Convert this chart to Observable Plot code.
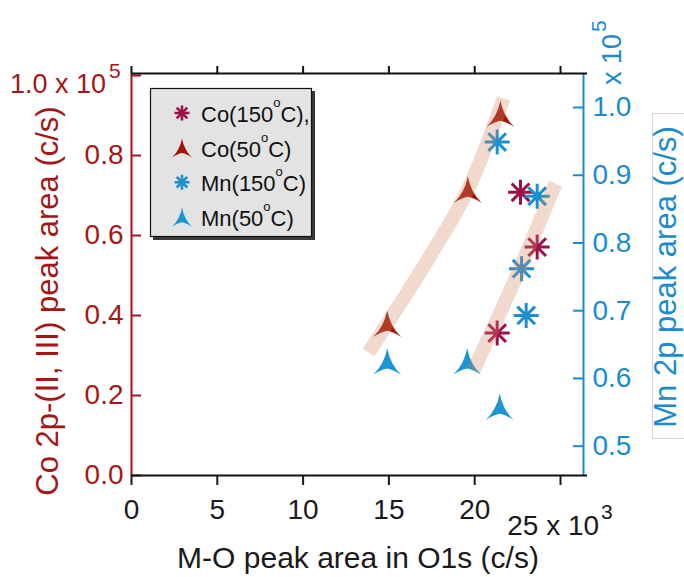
<!DOCTYPE html>
<html><head><meta charset="utf-8">
<script src="https://cdn.jsdelivr.net/npm/d3@7"></script>
<script src="https://cdn.jsdelivr.net/npm/@observablehq/plot@0.6"></script>
<style>html,body{margin:0;padding:0;background:#fff;} #chart{width:684px;height:577px;}</style>
</head><body><div id="chart"></div>
<script>
// x: M-O peak area in O1s (x 10^3 c/s); Co: left axis (x 10^5 c/s); Mn: right axis (x 10^5 c/s)
const co150X = [22.67, 23.64, 21.31];
const co150Y = [0.708, 0.571, 0.356];
const co50X = [21.5, 19.6, 14.9];
const co50Y = [0.9025, 0.7125, 0.3775];
const mn150X = [21.31, 23.64, 22.73, 23.0];
const mn150Y = [0.949, 0.869, 0.762, 0.693];
const mn50X = [14.9, 19.56, 21.46];
const mn50Y = [0.624, 0.624, 0.557];
// guide bands (left-axis units)
const band1X = [13.81, 17.31, 19.58, 21.68];
const band1Y = [0.3075, 0.5425, 0.7125, 0.9425];
const band2X = [19.93, 22.38, 24.71];
const band2Y = [0.2625, 0.4925, 0.73];
// ticks
const xTicks = [0, 5, 10, 15, 20, 25];
const leftTicks = [0, 0.2, 0.4, 0.6, 0.8, 1.0];
const rightTicks = [0.5, 0.6, 0.7, 0.8, 0.9, 1.0];
const legendItems = [
  {pre: "Co(150", post: "C),", sym: "star", key: "co150"},
  {pre: "Co(50", post: "C)", sym: "tri", key: "co50"},
  {pre: "Mn(150", post: "C)", sym: "star", key: "mn150"},
  {pre: "Mn(50", post: "C)", sym: "tri", key: "mn50"}
];

const W = 684, H = 577, mL = 131, mR = 101, mT = 73, mB = 102;
const frameW = W - mL - mR, frameH = H - mT - mB;
const xDomain = [0, 26.34], yDomain = [0, 1.005];
const toLeft = d3.scaleLinear().domain([0.5, 1.0]).range([0.0733, 0.92]);
const RED = "#a31717", BLUE = "#1a8bcd";
const COL = {co150: "#9c1049", co50: "#a3170b", mn150: "#1b8fd0", mn50: "#1c95d6"};
const FONT = "'Liberation Sans', Arial, Helvetica, sans-serif";

const starSym = {draw(ctx, size) {
  const r = Math.sqrt(size / Math.PI);
  for (const a of [0, 45, 90, 135]) {
    const t = a * Math.PI / 180;
    ctx.moveTo(r * Math.cos(t), r * Math.sin(t));
    ctx.lineTo(-r * Math.cos(t), -r * Math.sin(t));
  }
}};
const triSym = {draw(ctx, size) {
  const r = Math.sqrt(size / Math.PI);
  ctx.moveTo(0, -r);
  ctx.quadraticCurveTo(0.22 * r, 0.15 * r, 1.0 * r, 0.9 * r);
  ctx.quadraticCurveTo(0.4 * r, 0.5 * r, 0, 0.45 * r);
  ctx.quadraticCurveTo(-0.4 * r, 0.5 * r, -1.0 * r, 0.9 * r);
  ctx.quadraticCurveTo(-0.22 * r, 0.15 * r, 0, -r);
  ctx.closePath();
}};

const co150 = co150X.map((x, i) => ({x, y: co150Y[i]}));
const co50 = co50X.map((x, i) => ({x, y: co50Y[i]}));
const mn150 = mn150X.map((x, i) => ({x, y: toLeft(mn150Y[i])}));
const mn50 = mn50X.map((x, i) => ({x, y: toLeft(mn50Y[i])}));
const band1 = band1X.map((x, i) => ({x, y: band1Y[i]}));
const band2 = band2X.map((x, i) => ({x, y: band2Y[i]}));

const bandStyle = {x: "x", y: "y", curve: "catmull-rom", stroke: "#d28a66", strokeOpacity: 0.32, strokeWidth: 14, strokeLinecap: "butt"};

const chart = Plot.plot({
  width: W, height: H, marginLeft: mL, marginRight: mR, marginTop: mT, marginBottom: mB,
  x: {domain: xDomain}, y: {domain: yDomain},
  style: {fontFamily: FONT, background: "white", overflow: "visible"},
  marks: [
    Plot.axisX(xTicks, {anchor: "bottom", tickSize: 10, tickPadding: 14, fontSize: 28, color: "#1a1a1a", strokeWidth: 2,
      tickFormat: d => d === 25 ? "" : String(d), label: null}),
    Plot.axisY(leftTicks.filter(d => d < 1), {anchor: "left", tickSize: 0, tickPadding: 8, fontSize: 28, color: RED,
      tickFormat: d3.format(".1f"), label: null}),
    Plot.axisY(rightTicks.map(toLeft), {anchor: "right", tickSize: 0, tickPadding: 9, fontSize: 28, color: BLUE,
      tickFormat: d => toLeft.invert(d).toFixed(1), label: null}),
    Plot.tickY(leftTicks, {insetRight: frameW - 10, stroke: RED, strokeWidth: 2}),
    Plot.tickY(rightTicks.map(toLeft), {insetLeft: frameW - 10, stroke: BLUE, strokeWidth: 2}),
    Plot.ruleX([xDomain[0]], {stroke: RED, strokeWidth: 2}),
    Plot.ruleX([xDomain[1]], {stroke: BLUE, strokeWidth: 2}),
    Plot.ruleY([yDomain[0]], {stroke: "#111", strokeWidth: 2, insetRight: -4}),
    Plot.ruleY([yDomain[1]], {stroke: "#111", strokeWidth: 2, insetRight: -4}),
    Plot.tickX(xTicks, {insetTop: -7, insetBottom: frameH, stroke: "#111", strokeWidth: 2}),
    Plot.dot(mn50, {x: "x", y: "y", symbol: triSym, r: 14, fill: COL.mn50, stroke: "none"}),
    Plot.dot(co50, {x: "x", y: "y", symbol: triSym, r: 14, fill: COL.co50, stroke: "none"}),
    Plot.dot(co150, {x: "x", y: "y", symbol: starSym, r: 12.5, fill: "none", stroke: COL.co150, strokeWidth: 3}),
    Plot.dot(mn150, {x: "x", y: "y", symbol: starSym, r: 12.5, fill: "none", stroke: COL.mn150, strokeWidth: 3}),
    Plot.line(band1, bandStyle),
    Plot.line(band2, bandStyle)
  ]
});
document.getElementById("chart").appendChild(chart);

const svg = d3.select(chart);
const xs = chart.scale("x");
const addText = (sel) => sel.append("text").style("font-family", FONT).attr("text-anchor", "start");

// top-left tick label with multiplier
const t1 = addText(svg).attr("x", 10).attr("y", 93).attr("fill", RED).style("font-size", "27px");
t1.append("tspan").text("1.0 x 10");
t1.append("tspan").attr("dx", 3).attr("dy", -15).style("font-size", "21px").text("5");

// 25 x 10^3 label
const t2 = addText(svg).attr("x", xs.apply(25)).attr("y", 535).attr("fill", "#1a1a1a")
  .attr("text-anchor", "middle").style("font-size", "28px");
t2.append("tspan").text("25 x 10");
t2.append("tspan").attr("dx", 2).attr("dy", -16).style("font-size", "21px").text("3");

// x title
addText(svg).attr("x", 358).attr("y", 568).attr("text-anchor", "middle").attr("fill", "#1a1a1a")
  .style("font-size", "30px").text("M-O peak area in O1s (c/s)");

// left title
addText(svg).attr("transform", "translate(58,301) rotate(-90)").attr("text-anchor", "middle").attr("fill", RED)
  .style("font-size", "31px").text("Co 2p-(II, III) peak area (c/s)");

// right title with box
svg.append("rect").attr("x", 652.5).attr("y", 113.5).attr("width", 40).attr("height", 325)
  .attr("fill", "white").attr("stroke", "#d6d6d6");
addText(svg).attr("transform", "translate(676,277) rotate(-90)").attr("text-anchor", "middle").attr("fill", BLUE)
  .style("font-size", "31px").text("Mn 2p peak area (c/s)");

// right multiplier
const t3 = addText(svg).attr("transform", "translate(621,85) rotate(-90)").attr("fill", BLUE).style("font-size", "27px");
t3.append("tspan").text("x 10");
t3.append("tspan").attr("dx", 2).attr("dy", -15).style("font-size", "21px").text("5");

// legend
const lg = svg.append("g");
lg.append("rect").attr("x", 153).attr("y", 91).attr("width", 162).attr("height", 149).attr("fill", "#3a3a3a");
lg.append("rect").attr("x", 150.5).attr("y", 88.5).attr("width", 161).attr("height", 148)
  .attr("fill", "#e3e3e3").attr("stroke", "#111").attr("stroke-width", 1.2);
const symPath = (sym, r) => { const p = d3.path(); sym.draw(p, r * r * Math.PI); return p.toString(); };
legendItems.forEach((it, i) => {
  const cy = 113 + i * 34.6, base = 122 + i * 34.6;
  const isStar = it.sym === "star";
  lg.append("path").attr("transform", `translate(182,${isStar ? cy : cy + 1})`)
    .attr("d", isStar ? symPath(starSym, 7.5) : symPath(triSym, 10))
    .attr("fill", isStar ? "none" : COL[it.key]).attr("stroke", isStar ? COL[it.key] : "none")
    .attr("stroke-width", 2.6);
  const tx = addText(lg).attr("x", 201).attr("y", base).attr("fill", "#111").style("font-size", "22px");
  tx.append("tspan").text(it.pre);
  tx.append("tspan").attr("dy", -15).style("font-size", "13px").text("o");
  tx.append("tspan").attr("dy", 15).text(it.post);
});
</script>
</body></html>
